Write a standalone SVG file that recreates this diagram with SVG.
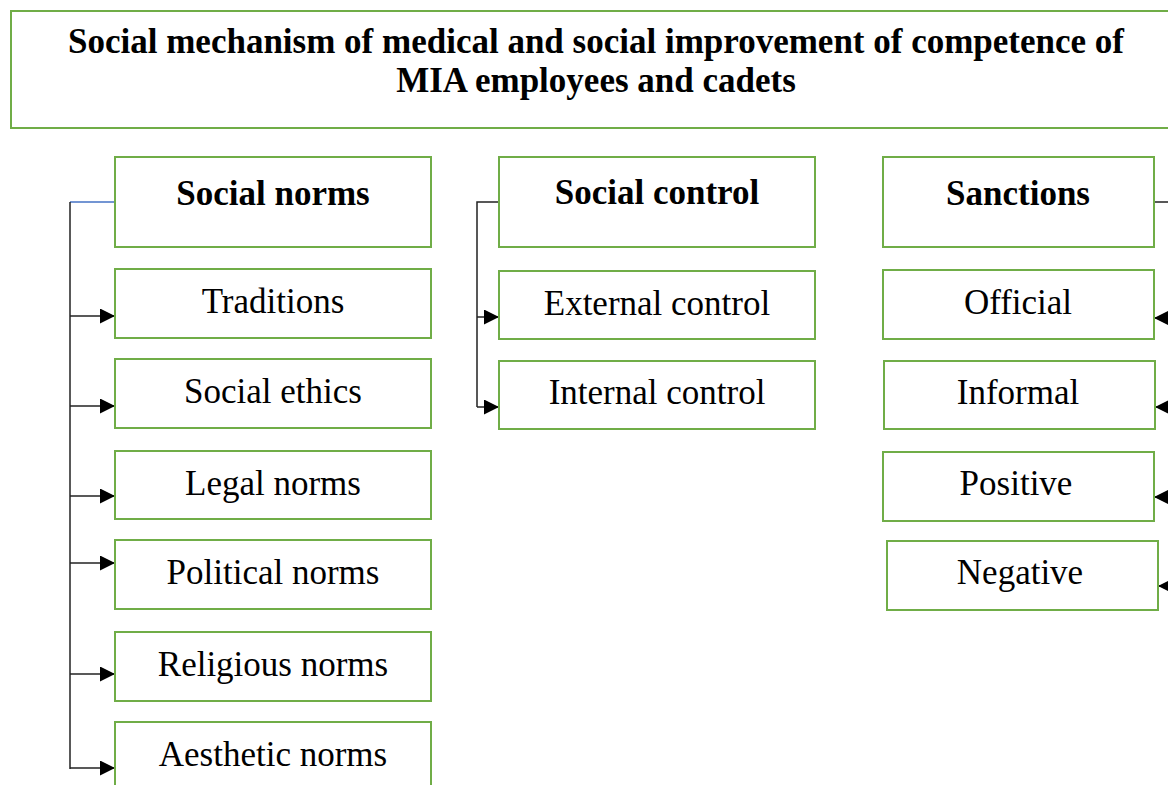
<svg xmlns="http://www.w3.org/2000/svg" width="1168" height="785" viewBox="0 0 1168 785">
<defs>
<marker id="arr" viewBox="0 0 10 10" refX="10" refY="5" markerWidth="15" markerHeight="15" markerUnits="userSpaceOnUse" orient="auto">
<path d="M0,0 L10,5 L0,10 Z" fill="#000"/>
</marker>
<style>
.box{fill:#fff;stroke:#70AD47;stroke-width:2}
.t{font-family:"Liberation Serif","Times New Roman",serif;font-size:35px;fill:#000;text-anchor:middle}
.b{font-weight:bold}
.ln{fill:none;stroke:#222;stroke-width:1.5}
</style>
</defs>
<rect width="1168" height="785" fill="#fff"/>
<g id="title">
<rect class="box" x="11" y="11" width="1170" height="117"/>
<text class="t b" x="596" y="53" font-size="30">Social mechanism of medical and social improvement of competence of</text>
<text class="t b" x="596" y="92" font-size="30">MIA employees and cadets</text>
</g>
<g id="connectors">
<path d="M115,202 H70" stroke="#4472C4" stroke-width="1.5" fill="none"/>
<path class="ln" d="M70,202 V769" stroke="#444"/>
<path class="ln" d="M70,316 H115" marker-end="url(#arr)"/>
<path class="ln" d="M70,406 H115" marker-end="url(#arr)"/>
<path class="ln" d="M70,496 H115" marker-end="url(#arr)"/>
<path class="ln" d="M70,563 H115" marker-end="url(#arr)"/>
<path class="ln" d="M70,674 H115" marker-end="url(#arr)"/>
<path class="ln" d="M70,768 H115" marker-end="url(#arr)"/>
<path class="ln" d="M499,202 H477 V407"/>
<path class="ln" d="M477,317 H499" marker-end="url(#arr)"/>
<path class="ln" d="M477,407 H499" marker-end="url(#arr)"/>
<path class="ln" d="M1154,202 H1175 V586"/>
<path class="ln" d="M1175,318 H1154" marker-end="url(#arr)"/>
<path class="ln" d="M1175,407 H1155" marker-end="url(#arr)"/>
<path class="ln" d="M1175,497 H1154" marker-end="url(#arr)"/>
<path class="ln" d="M1175,586 H1158" marker-end="url(#arr)"/>
</g>
<g id="social-norms"><rect class="box" x="115" y="157" width="316" height="90"/><text class="t b" x="273" y="205">Social norms</text></g>
<g id="traditions"><rect class="box" x="115" y="269" width="316" height="69"/><text class="t" x="273" y="313">Traditions</text></g>
<g id="social-ethics"><rect class="box" x="115" y="359" width="316" height="69"/><text class="t" x="273" y="403">Social ethics</text></g>
<g id="legal-norms"><rect class="box" x="115" y="451" width="316" height="68"/><text class="t" x="273" y="495">Legal norms</text></g>
<g id="political-norms"><rect class="box" x="115" y="540" width="316" height="69"/><text class="t" x="273" y="584">Political norms</text></g>
<g id="religious-norms"><rect class="box" x="115" y="632" width="316" height="69"/><text class="t" x="273" y="676">Religious norms</text></g>
<g id="aesthetic-norms"><rect class="box" x="115" y="722" width="316" height="80"/><text class="t" x="273" y="766">Aesthetic norms</text></g>
<g id="social-control"><rect class="box" x="499" y="157" width="316" height="90"/><text class="t b" x="657" y="204">Social control</text></g>
<g id="external-control"><rect class="box" x="499" y="271" width="316" height="68"/><text class="t" x="657" y="315">External control</text></g>
<g id="internal-control"><rect class="box" x="499" y="361" width="316" height="68"/><text class="t" x="657" y="404">Internal control</text></g>
<g id="sanctions"><rect class="box" x="883" y="157" width="271" height="90"/><text class="t b" x="1018" y="205">Sanctions</text></g>
<g id="official"><rect class="box" x="883" y="270" width="271" height="69"/><text class="t" x="1018" y="314">Official</text></g>
<g id="informal"><rect class="box" x="884" y="361" width="271" height="68"/><text class="t" x="1018" y="404">Informal</text></g>
<g id="positive"><rect class="box" x="883" y="452" width="271" height="69"/><text class="t" x="1016" y="495">Positive</text></g>
<g id="negative"><rect class="box" x="887" y="541" width="271" height="69"/><text class="t" x="1020" y="584">Negative</text></g>
</svg>
